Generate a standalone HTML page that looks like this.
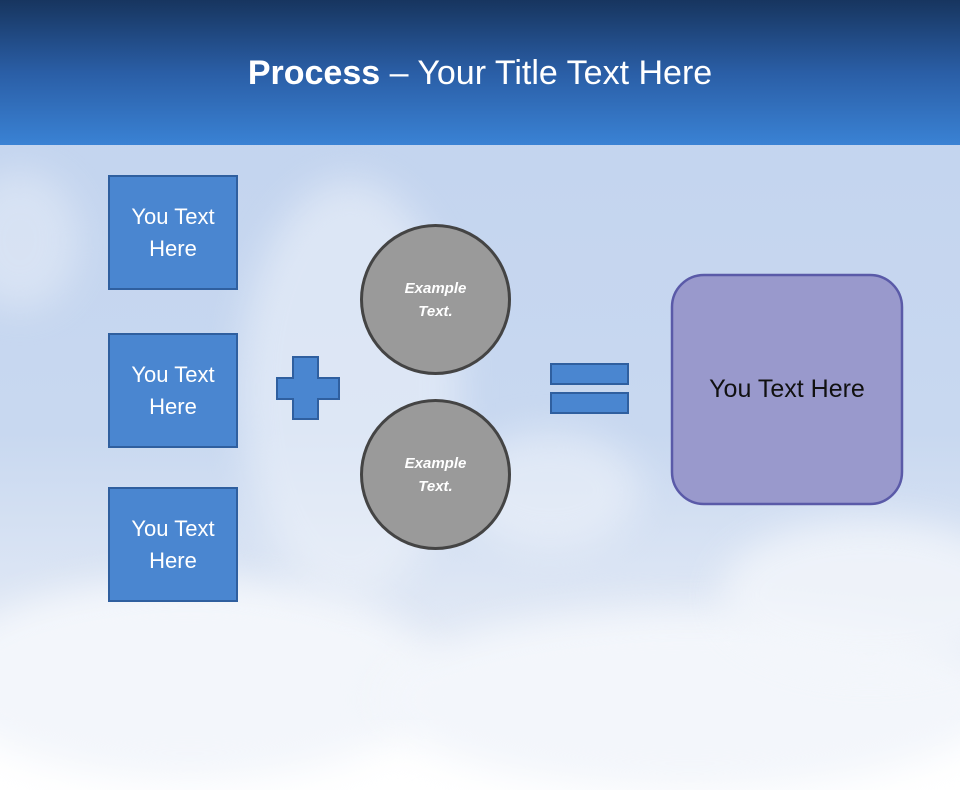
<!DOCTYPE html>
<html><head><style>
body{margin:0;width:960px;height:720px;overflow:hidden;font-family:"Liberation Sans",sans-serif}
.bg{position:absolute;left:0;top:0;width:960px;height:720px;background:linear-gradient(180deg,#c2d3ee 0%,#c8d8f0 60%,#e0e8f5 85%,#eef2f8 100%)}
.cl{position:absolute;border-radius:50%;background:#f3f6fb;filter:blur(18px)}
.hdr{position:absolute;left:0;top:0;width:960px;height:145px;background:linear-gradient(180deg,#17355f 0%,#2a5ea6 50%,#3a82d4 100%)}
.title{position:absolute;top:54px;width:960px;text-align:center;color:#fff;font-size:34px}
.box{position:absolute;left:108px;width:126px;height:111px;background:#4a86d0;border:2px solid #2f5f9f;color:#fff;font-size:22px;display:flex;align-items:center;justify-content:center;text-align:center;line-height:32px}
.circ{position:absolute;left:360px;width:145px;height:145px;border-radius:50%;background:#9a9a9a;border:3px solid #444;color:#fff;font-style:italic;font-weight:bold;font-size:15px;display:flex;align-items:center;justify-content:center;text-align:center;line-height:23px}
.eq{position:absolute;left:550px;width:75px;height:18px;background:#4a86d0;border:2px solid #2f5f9f}
</style></head><body>
<div class="bg"></div>
<div class="cl" style="left:-60px;top:580px;width:500px;height:200px"></div>
<div class="cl" style="left:380px;top:610px;width:620px;height:180px"></div>
<div class="cl" style="left:720px;top:520px;width:300px;height:150px;opacity:.8"></div>
<div class="cl" style="left:240px;top:180px;width:220px;height:420px;opacity:.5"></div>
<div class="cl" style="left:460px;top:430px;width:180px;height:120px;opacity:.5"></div>
<div class="cl" style="left:-40px;top:170px;width:120px;height:140px;opacity:.4"></div>
<div class="hdr"></div>
<div class="title"><b>Process</b> – Your Title Text Here</div>
<div class="box" style="top:175px">You Text<br>Here</div>
<div class="box" style="top:333px">You Text<br>Here</div>
<div class="box" style="top:487px">You Text<br>Here</div>
<svg style="position:absolute;left:0;top:0" width="960" height="720">
<path d="M293 357H318V378H339V399H318V419H293V399H277V378H293Z" fill="#4a86d0" stroke="#2f5f9f" stroke-width="2"/>
<rect x="672" y="275" width="230" height="229" rx="32" fill="#9999cc" stroke="#5a5aa8" stroke-width="2.5"/>
</svg>
<div style="position:absolute;left:672px;top:275px;width:230px;height:229px;display:flex;align-items:center;justify-content:center;font-size:25px;color:#111">You Text Here</div>
<div class="circ" style="top:224px">Example<br>Text.</div>
<div class="circ" style="top:399px">Example<br>Text.</div>
<div class="eq" style="top:363px"></div>
<div class="eq" style="top:392px"></div>
</body></html>
